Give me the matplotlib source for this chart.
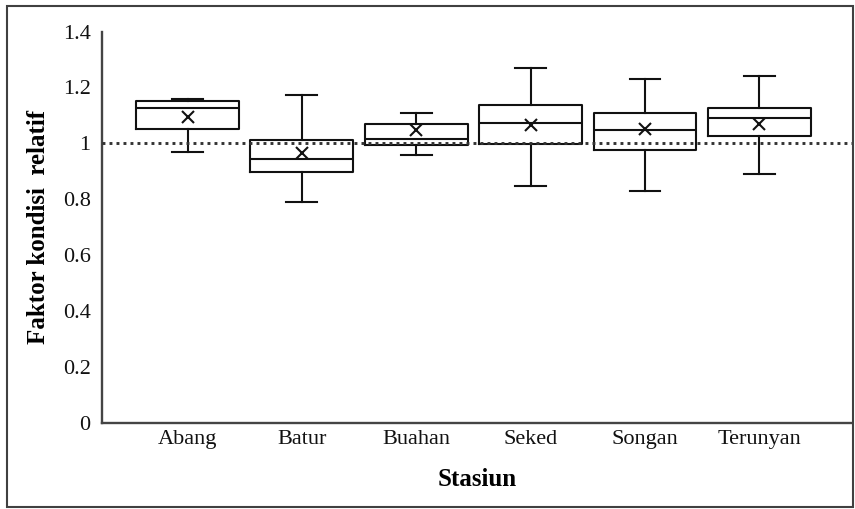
import matplotlib
matplotlib.use("Agg")
import matplotlib.pyplot as plt
from matplotlib.patches import Rectangle

categories = ["Abang", "Batur", "Buahan", "Seked", "Songan", "Terunyan"]
whisker_low = [0.968, 0.791, 0.959, 0.849, 0.831, 0.890]
q1 = [1.053, 0.899, 0.995, 0.998, 0.977, 1.026]
median = [1.126, 0.945, 1.016, 1.072, 1.048, 1.092]
q3 = [1.152, 1.011, 1.070, 1.138, 1.107, 1.125]
whisker_high = [1.159, 1.173, 1.107, 1.268, 1.231, 1.241]
mean = [1.094, 0.965, 1.048, 1.065, 1.052, 1.070]
reference_value = 1.0
y_ticks = [0, 0.2, 0.4, 0.6, 0.8, 1, 1.2, 1.4]
y_tick_labels = ["0", "0.2", "0.4", "0.6", "0.8", "1", "1.2", "1.4"]

plt.rcParams['font.family'] = ['Liberation Serif', 'DejaVu Serif']

fig = plt.figure(figsize=(8.55, 5.09), dpi=100)
ax = fig.add_axes([0.119, 0.1695, 0.8775, 0.7685])

stats = []
for i, c in enumerate(categories):
    stats.append(dict(label=c, whislo=whisker_low[i], q1=q1[i], med=median[i],
                      q3=q3[i], whishi=whisker_high[i], mean=mean[i], fliers=[]))

ink = "#111111"
lw = 1.5
positions = list(range(1, len(categories) + 1))
ax.bxp(stats, positions=positions, widths=0.9, showmeans=True, showfliers=False,
       boxprops=dict(color=ink, linewidth=lw),
       medianprops=dict(color=ink, linewidth=lw),
       whiskerprops=dict(color=ink, linewidth=lw),
       capprops=dict(color=ink, linewidth=lw),
       capwidths=0.27,
       meanprops=dict(marker='x', markeredgecolor=ink, markersize=8, markeredgewidth=1.5))

ax.axhline(reference_value, color="#333333", linewidth=2.1, linestyle=(0, (1, 1.4)),
           zorder=5)

ax.set_xlim(0.25, 6.81)
ax.set_ylim(0, 1.4)
ax.set_yticks(y_ticks)
ax.set_yticklabels(y_tick_labels)
ax.set_xticks(positions)
ax.set_xticklabels(categories)
ax.tick_params(axis='both', length=0, labelsize=16, colors="#111111")
ax.tick_params(axis='x', pad=5)
ax.tick_params(axis='y', pad=8)

for s in ['top', 'right']:
    ax.spines[s].set_visible(False)
for s in ['left', 'bottom']:
    ax.spines[s].set_color("#444444")
    ax.spines[s].set_linewidth(1.7)

ax.set_ylabel("Faktor kondisi  relatif", fontsize=18, fontweight='bold', labelpad=9)
ax.set_xlabel("Stasiun", fontsize=18, fontweight='bold', labelpad=14)

fig.patches.append(Rectangle((7 / 855, 2 / 509), 846 / 855, 501 / 509,
                             transform=fig.transFigure, fill=False,
                             edgecolor="#404040", linewidth=1.5))

fig.savefig("out.png", dpi=100)
